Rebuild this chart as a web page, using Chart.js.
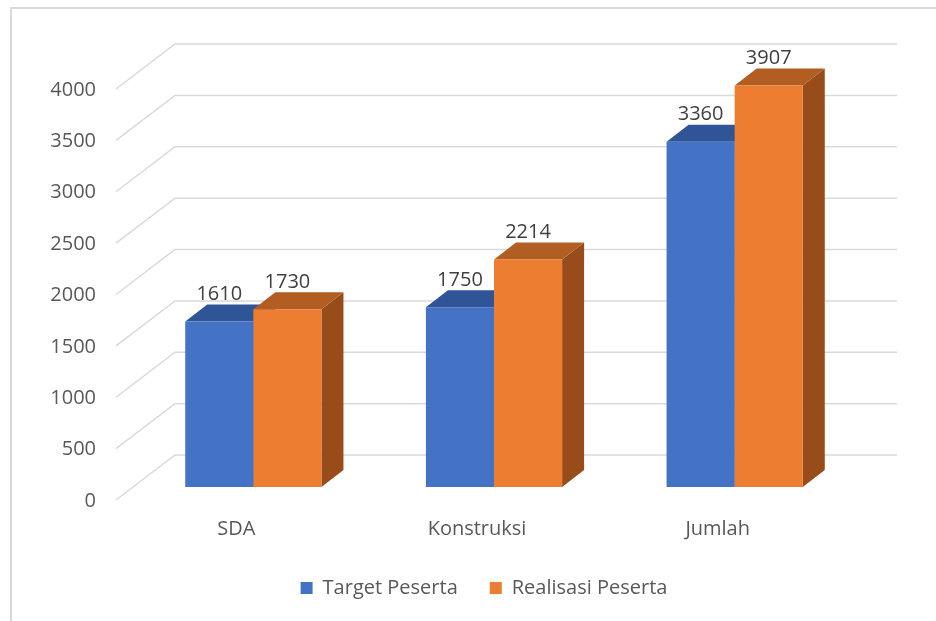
<!DOCTYPE html>
<html lang="id">
<head>
    <meta charset="UTF-8">
    <title>Target vs Realisasi Peserta</title>
    <script src="https://cdn.jsdelivr.net/npm/chart.js"></script>
    <style>
        html, body { margin: 0; padding: 0; background: #fff; }
        .chart-container { width: 936px; height: 621px; position: relative; }
    </style>
</head>
<body>
    <div class="chart-container">
        <canvas id="barChart"></canvas>
    </div>

    <script>
        // data
        const categories = ['SDA', 'Konstruksi', 'Jumlah'];
        const targetPeserta = [1610, 1750, 3360];
        const realisasiPeserta = [1730, 2214, 3907];
        const yTicks = [0, 500, 1000, 1500, 2000, 2500, 3000, 3500, 4000];

        const FONT = "'Open Sans', sans-serif";
        const gridColor = '#d9d9d9';
        // 3D offsets relative to the bar front plane
        const floorFront = { dx: -17, dy: 13 };
        const backWall = { dx: 42, dy: -32 };
        const barDepth = { dx: 22, dy: -17 };
        const faceColors = [
            { top: '#2f5597', side: '#2e528f' },
            { top: '#b25d22', side: '#974c19' }
        ];

        // gridlines, frame and 3D faces of the bars
        const fake3d = {
            id: 'fake3d',
            afterLayout(chart) {
                // legend sits a bit left of the plot centre in the original
                chart.legend.left -= 10;
                chart.legend.right -= 10;
            },
            beforeDatasetsDraw(chart) {
                const ctx = chart.ctx;
                const area = chart.chartArea;
                const y = chart.scales.y;
                ctx.save();

                // outer frame
                ctx.strokeStyle = gridColor;
                ctx.lineWidth = 2;
                ctx.beginPath();
                ctx.moveTo(11, chart.height);
                ctx.lineTo(11, 8);
                ctx.lineTo(chart.width, 8);
                ctx.stroke();

                ctx.lineWidth = 1.5;
                yTicks.forEach(v => {
                    const py = y.getPixelForValue(v);
                    ctx.beginPath();
                    ctx.moveTo(area.left + floorFront.dx, py + floorFront.dy);
                    ctx.lineTo(area.left + backWall.dx, py + backWall.dy);
                    ctx.lineTo(area.right + backWall.dx, py + backWall.dy);
                    ctx.stroke();
                });

                chart.data.datasets.forEach((ds, di) => {
                    const meta = chart.getDatasetMeta(di);
                    meta.data.forEach(bar => {
                        const p = bar.getProps(['x', 'y', 'base', 'width'], true);
                        const l = p.x - p.width / 2, r = p.x + p.width / 2;
                        ctx.fillStyle = faceColors[di].side;
                        ctx.beginPath();
                        ctx.moveTo(r, p.y);
                        ctx.lineTo(r + barDepth.dx, p.y + barDepth.dy);
                        ctx.lineTo(r + barDepth.dx, p.base + barDepth.dy);
                        ctx.lineTo(r, p.base);
                        ctx.closePath();
                        ctx.fill();
                        ctx.fillStyle = faceColors[di].top;
                        ctx.beginPath();
                        ctx.moveTo(l, p.y);
                        ctx.lineTo(l + barDepth.dx, p.y + barDepth.dy);
                        ctx.lineTo(r + barDepth.dx, p.y + barDepth.dy);
                        ctx.lineTo(r, p.y);
                        ctx.closePath();
                        ctx.fill();
                    });
                });
                ctx.restore();
            },
            afterDatasetsDraw(chart) {
                const ctx = chart.ctx;
                ctx.save();
                ctx.font = '20px ' + FONT;
                ctx.fillStyle = '#404040';
                ctx.textAlign = 'center';
                ctx.textBaseline = 'middle';
                chart.data.datasets.forEach((ds, di) => {
                    chart.getDatasetMeta(di).data.forEach((bar, i) => {
                        ctx.fillText(ds.data[i], bar.x, bar.y - 27);
                    });
                });
                ctx.restore();
            }
        };

        const ctx = document.getElementById('barChart').getContext('2d');
        const barChart = new Chart(ctx, {
            type: 'bar',
            data: {
                labels: categories,
                datasets: [
                    {
                        label: 'Target Peserta',
                        data: targetPeserta,
                        backgroundColor: '#4472c4'
                    },
                    {
                        label: 'Realisasi Peserta',
                        data: realisasiPeserta,
                        backgroundColor: '#ed7d31'
                    }
                ]
            },
            options: {
                responsive: true,
                maintainAspectRatio: false,
                animation: false,
                layout: {
                    padding: { left: 0, right: 81, top: 76, bottom: 13 }
                },
                datasets: {
                    bar: { categoryPercentage: 0.566, barPercentage: 1 }
                },
                scales: {
                    x: {
                        grid: { display: false, drawTicks: false },
                        border: { display: false },
                        ticks: {
                            color: '#595959',
                            font: { family: FONT, size: 20 },
                            padding: 30,
                            labelOffset: -17
                        },
                        afterFit(axis) { axis.height = 59; }
                    },
                    y: {
                        min: 0,
                        max: 4000,
                        grid: { display: false, drawTicks: false },
                        border: { display: false },
                        ticks: {
                            stepSize: 500,
                            color: '#595959',
                            font: { family: FONT, size: 20 },
                            padding: 37,
                            labelOffset: 14,
                            callback: v => String(v)
                        },
                        afterFit(axis) { axis.width = 133; }
                    }
                },
                plugins: {
                    legend: {
                        position: 'bottom',
                        fullSize: false,
                        labels: {
                            boxWidth: 12,
                            boxHeight: 12,
                            padding: 32,
                            color: '#595959',
                            font: { family: FONT, size: 20 }
                        }
                    },
                    tooltip: { enabled: false }
                }
            },
            plugins: [fake3d]
        });
    </script>
</body>
</html>
